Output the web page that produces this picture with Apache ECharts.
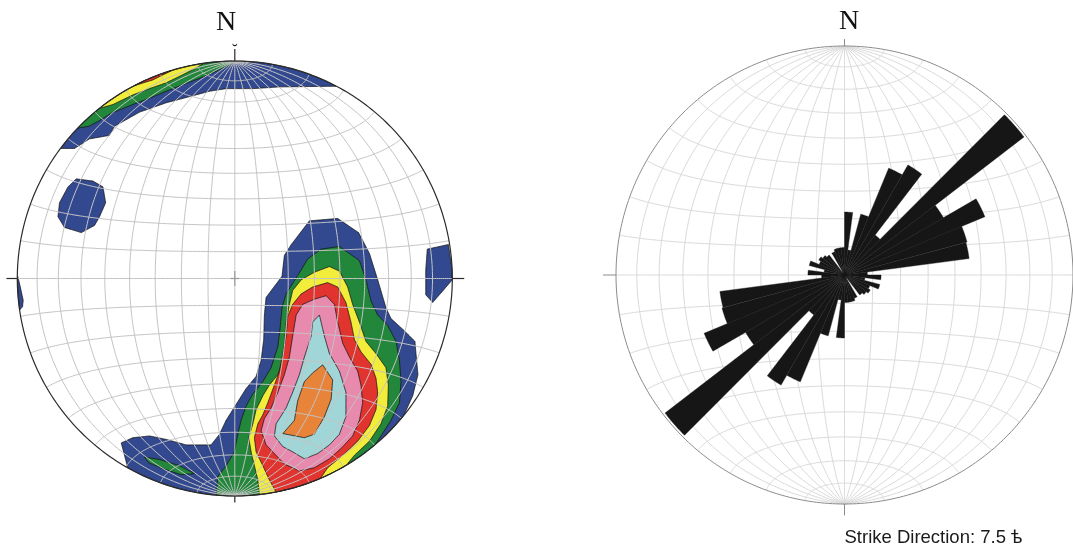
<!DOCTYPE html>
<html>
<head>
<meta charset="utf-8">
<script src="https://cdn.jsdelivr.net/npm/echarts@6/dist/echarts.min.js"></script>
<style>
  html, body { margin: 0; padding: 0; background: #ffffff; }
  #main { width: 1073px; height: 548px; }
</style>
</head>
<body>
<div id="main"></div>
<script>
// Graticule spacing of the equal-area (Schmidt) net, degrees
const NET_STEP = 10;
// Width of one strike class in the rose, degrees
const ROSE_BIN = 7.5;

// Pole-density contours, x east / y north in percent of the net radius.
// Vertices beyond 100 run along the primitive circle.
const densityLevel1 = [
  [[34.3,26.5],[47.3,27.6],[56.9,21.1],[61.9,11.5],[65.7,-0.6],[69.5,-13.5],[71.8,-18.4],[77.9,-24.0],[82.8,-28.9],[83.3,-34.5],[84.2,-44.2],[81.8,-53.9],[77.9,-62.5],[65,-112.6],[0,-130],[-44.5,-122.2],[-49.2,-87.1],[-52.2,-75.6],[-46.9,-73.2],[-39.2,-72.4],[-31.5,-74.0],[-22.4,-76.5],[-10.9,-76.5],[-7.0,-71.6],[-4.0,-65.2],[-0.9,-60.3],[5.2,-50.6],[9.8,-45.0],[12.1,-37.7],[13.3,-28.1],[13.6,-16.8],[14.4,-8.7],[21.7,1.0],[22.8,10.6],[25.9,15.5]],
  [[-79.8,59.8],[-73.7,59.8],[-66.8,64.2],[-57.6,65.8],[-55.3,70.0],[-43.8,76.5],[-31.5,80.8],[-22.4,83.2],[-11.6,86.1],[-4.0,87.3],[8.3,87.3],[20.5,88.1],[46.6,88.4],[33.6,125.6],[0,130],[-33.6,125.6],[-65,112.6],[-91.9,91.9]],
  [[-72.9,45.8],[-65.2,44.8],[-60.6,42.1],[-59.4,34.8],[-62.2,28.4],[-64.5,24.4],[-70.6,21.1],[-78.3,23.5],[-81.3,28.4],[-80.6,34.8],[-76.7,42.1]],
  [[-99.8,1],[-98.6,-4],[-97.3,-10],[-97.6,-13],[-99,-14.5],[-110,-7]],
  [[88.5,13.5],[98.2,15.6],[100.5,0],[97.5,-3.5],[91,-11],[87.8,-7.5],[87.8,4]]
];
const densityLevel2 = [
  [[39.7,13.5],[48.1,14.7],[57.3,8.2],[60.3,-0.6],[62.6,-10.3],[65.7,-16.8],[70.3,-21.6],[74.1,-28.9],[75.7,-37.7],[76.4,-47.4],[75.7,-57.1],[71.8,-65.2],[67.2,-72.4],[64.2,-76.8],[44.5,-122.2],[0,-130],[-8.6,-99.7],[-7.8,-91.0],[-4.0,-86.1],[-0.2,-79.7],[1.4,-71.6],[2.9,-65.2],[5.2,-58.7],[8.3,-53.1],[12.9,-47.4],[16.7,-41.0],[19.8,-31.3],[20.8,-23.2],[21.7,-13.5],[23.6,-7.1],[26.6,-2.3],[29.7,2.6],[33.5,9.0]],
  [[-41.5,-82.1],[-34.6,-83.2],[-25.4,-86.1],[-18.5,-89.7],[-24.7,-90.2],[-33.1,-87.4],[-39.5,-84.8]],
  [[-72.9,69.0],[-67.1,70.0],[-62.2,72.6],[-56.8,76.0],[-46.9,80.0],[-39.2,82.9],[-31.5,86.1],[-22.4,89.7],[-14.7,92.6],[-8.6,95.3],[-2.5,98.1],[-0.9,99.4],[-22.6,128],[-54.9,117.8],[-83.6,99.6]]
];
const densityLevel3 = [
  [[43.5,5.5],[48.1,3.4],[51.9,-3.9],[54.2,-11.9],[57.3,-20.0],[60.3,-28.9],[64.9,-34.5],[69.5,-41.0],[70.6,-49.0],[70.3,-58.7],[67.2,-66.8],[61.9,-74.8],[55.0,-81.3],[51.1,-86.0],[44.5,-122.2],[11.3,-99.4],[10.6,-92.6],[9.0,-86.1],[7.5,-79.7],[6.4,-73.2],[8.3,-66.8],[9.8,-60.3],[12.9,-53.9],[15.9,-49.0],[19.8,-44.2],[22.1,-37.7],[22.8,-29.7],[23.6,-20.0],[25.1,-11.9],[26.6,-5.5],[30.5,-0.6],[36.6,2.9]],
  [[-62.2,78.2],[-56.0,80.0],[-46.9,84.4],[-39.2,87.3],[-31.5,90.0],[-23.9,93.7],[-17.8,96.8],[-14.4,98.9],[-44.5,122.2],[-65,112.6]]
];
const densityLevel4 = [
  [[42.7,-1.9],[47.3,-3.9],[51.1,-11.1],[53.4,-20.0],[55.0,-28.1],[58.0,-33.7],[62.6,-39.4],[64.9,-45.8],[65.7,-52.3],[64.9,-60.3],[61.9,-67.6],[56.5,-74.8],[49.6,-81.3],[42.7,-87.0],[38.9,-92.6],[30,-125],[19.0,-98.2],[15.9,-92.6],[12.9,-86.1],[9.8,-79.7],[9.0,-73.2],[10.6,-66.8],[12.9,-62.7],[15.2,-57.1],[18.2,-49.0],[20.5,-42.6],[22.1,-34.5],[23.6,-26.5],[24.3,-17.6],[26.6,-11.9],[30.5,-7.1],[35.8,-3.9]],
  [[-46.1,88.7],[-37.7,91.3],[-29.2,95.5],[-48.7,120.5]]
];
const densityLevel5 = [
  [[42.0,-7.9],[45.8,-11.9],[47.3,-20.0],[49.6,-29.7],[52.7,-36.1],[56.5,-42.6],[58.0,-49.0],[58.8,-57.1],[57.3,-65.2],[54.2,-72.4],[48.9,-78.1],[43.5,-82.9],[36.6,-87.0],[29.7,-88.5],[22.8,-85.3],[18.2,-80.5],[14.4,-76.5],[12.1,-70.0],[13.6,-64.4],[16.7,-59.5],[19.8,-52.3],[22.8,-44.2],[25.1,-36.1],[26.6,-26.5],[28.2,-16.8],[31.2,-11.9],[36.6,-9.5]]
];
const densityLevel6 = [
  [[38.9,-16.8],[41.2,-26.5],[43.5,-34.5],[48.1,-42.6],[51.1,-52.3],[51.1,-63.5],[48.1,-71.6],[43.5,-76.5],[38.1,-80.5],[32.0,-82.9],[26.6,-79.7],[22.1,-77.3],[18.2,-72.4],[19.0,-66.8],[23.6,-59.5],[26.6,-52.3],[29.7,-44.2],[32.0,-36.1],[35.1,-26.5],[35.8,-20.0]]
];
const densityLevel7 = [
  [[40.4,-39.7],[45.0,-46.6],[44.3,-55.5],[41.2,-63.5],[36.6,-71.6],[32.0,-73.2],[22.1,-71.3],[27.4,-65.2],[28.9,-56.3],[32.0,-47.4],[35.8,-43.4]]
];
const densityLevels = [densityLevel1, densityLevel2, densityLevel3, densityLevel4, densityLevel5, densityLevel6, densityLevel7];
const densityColors = ['#33498f', '#23873b', '#f2ec3b', '#e1342f', '#e78aae', '#a0d6d7', '#e8833a'];

// Strike rose: frequency per 7.5° class from 0° to 180°, in percent of the net radius
// (each class is also plotted in the opposite direction).
const strikeFreq = [27.5, 11, 27.5, 50.5, 55.5, 22, 99, 50, 66.5, 55.5, 55, 10, 16, 9, 16, 12, 13, 12, 11, 0, 11, 12, 12, 12];

const rad = d => d * Math.PI / 180;

// Equatorial Lambert equal-area projection scaled to a unit primitive circle
function project(lon, lat) {
  const l = rad(lon), p = rad(lat);
  const d = Math.sqrt(1 + Math.cos(p) * Math.cos(l));
  return [Math.cos(p) * Math.sin(l) / d, Math.sin(p) / d];
}

function graticule() {
  const lines = [];
  for (let lon = -90 + NET_STEP; lon < 90; lon += NET_STEP) {
    const pts = [];
    for (let lat = -90; lat <= 90; lat += 1) pts.push(project(lon, lat));
    lines.push(pts);
  }
  for (let lat = -90 + NET_STEP; lat < 90; lat += NET_STEP) {
    const pts = [];
    for (let lon = -90; lon <= 90; lon += 1) pts.push(project(lon, lat));
    lines.push(pts);
  }
  return lines;
}
const netLines = graticule();

// Densify a contour outline and keep it inside the primitive circle
function rimClamp(poly) {
  const out = [];
  for (let i = 0; i < poly.length; i++) {
    const a = poly[i], b = poly[(i + 1) % poly.length];
    const ax = a[0] / 100, ay = a[1] / 100, bx = b[0] / 100, by = b[1] / 100;
    const n = Math.max(1, Math.ceil(Math.hypot(bx - ax, by - ay) / 0.004));
    for (let k = 0; k < n; k++) {
      let x = ax + (bx - ax) * k / n, y = ay + (by - ay) * k / n;
      const r = Math.hypot(x, y);
      if (r > 0.999) { x = x / r * 0.999; y = y / r * 0.999; }
      out.push([x, y]);
    }
  }
  return out;
}

const contourShapes = [];
densityLevels.forEach((level, li) => {
  level.forEach(poly => contourShapes.push({ pts: rimClamp(poly), color: densityColors[li] }));
});

const roseBins = [];
strikeFreq.forEach((f, i) => {
  if (f > 0) {
    roseBins.push([i * ROSE_BIN, (i + 1) * ROSE_BIN, f]);
    roseBins.push([180 + i * ROSE_BIN, 180 + (i + 1) * ROSE_BIN, f]);
  }
});

function graticuleSeries(gi, color, width, z) {
  return {
    type: 'custom', xAxisIndex: gi, yAxisIndex: gi, clip: false, silent: true, z: z,
    data: netLines.map((_, i) => [0, 0, i]),
    renderItem: (params, api) => ({
      type: 'polyline',
      shape: { points: netLines[api.value(2)].map(p => api.coord(p)) },
      style: { stroke: color, lineWidth: width, fill: null }
    })
  };
}

function frameSeries(gi, cfg) {
  return {
    type: 'custom', xAxisIndex: gi, yAxisIndex: gi, clip: false, silent: true, z: 6,
    data: [[0, 0]],
    renderItem: (params, api) => {
      const children = [];
      const rim = [];
      for (let a = 0; a <= 360; a += 1) rim.push(api.coord([Math.sin(rad(a)), Math.cos(rad(a))]));
      children.push({ type: 'polyline', shape: { points: rim }, style: { stroke: cfg.rimColor, lineWidth: cfg.rimWidth, fill: null } });
      cfg.ticks.forEach(t => {
        const p1 = api.coord(t[0]), p2 = api.coord(t[1]);
        children.push({ type: 'line', shape: { x1: p1[0], y1: p1[1], x2: p2[0], y2: p2[1] },
          style: { stroke: t[2] || cfg.tickColor, lineWidth: cfg.tickWidth } });
      });
      cfg.labels.forEach(l => {
        const p = api.coord(l.at);
        children.push({ type: 'text', x: p[0], y: p[1],
          style: { text: l.text, fill: l.color || '#111', font: l.font, align: l.align || 'center', verticalAlign: 'middle' } });
      });
      return { type: 'group', children: children };
    }
  };
}

const option = {
  animation: false,
  backgroundColor: '#ffffff',
  grid: [
    { left: 17.3, top: 61, width: 435, height: 435 },
    { left: 616, top: 46, width: 458, height: 458 }
  ],
  xAxis: [
    { type: 'value', gridIndex: 0, min: -1, max: 1, show: false },
    { type: 'value', gridIndex: 1, min: -1, max: 1, show: false }
  ],
  yAxis: [
    { type: 'value', gridIndex: 0, min: -1, max: 1, show: false },
    { type: 'value', gridIndex: 1, min: -1, max: 1, show: false }
  ],
  series: [
    // contoured pole density
    {
      type: 'custom', xAxisIndex: 0, yAxisIndex: 0, clip: false, silent: true, z: 2,
      data: contourShapes.map((_, i) => [0, 0, i]),
      renderItem: (params, api) => {
        const s = contourShapes[api.value(2)];
        return { type: 'polygon', shape: { points: s.pts.map(p => api.coord(p)) },
          style: { fill: s.color, stroke: '#111111', lineWidth: 0.8 } };
      }
    },
    graticuleSeries(0, '#c4c4c4', 1, 3),
    frameSeries(0, {
      rimColor: '#2a2a2a', rimWidth: 1.2, tickColor: '#2a2a2a', tickWidth: 1.2,
      ticks: [
        [[0, 1], [0, 1.055]], [[0, -1], [0, -1.03]],
        [[-1, 0], [-1.05, 0]], [[1, 0], [1.055, 0]],
        [[0, -0.035], [0, 0.035], '#9a9a9a'], [[-0.02, 0], [0.02, 0], '#9a9a9a']
      ],
      labels: [
        { text: 'N', at: [-0.04, 1.175], font: '28px "Liberation Serif", "DejaVu Serif", serif' },
        { text: '\u02D8', at: [0, 1.05], font: '17px "Liberation Serif", "DejaVu Serif", serif' }
      ]
    }),
    // strike rose on the second net
    graticuleSeries(1, '#dadada', 1, 1),
    {
      type: 'custom', xAxisIndex: 1, yAxisIndex: 1, clip: false, silent: true, z: 4,
      data: roseBins.map((_, i) => [0, 0, i]),
      renderItem: (params, api) => {
        const b = roseBins[api.value(2)];
        const r = b[2] / 100;
        const pts = [api.coord([0, 0])];
        for (let a = b[0]; a <= b[1] + 1e-9; a += 0.25) pts.push(api.coord([r * Math.sin(rad(a)), r * Math.cos(rad(a))]));
        return { type: 'polygon', shape: { points: pts },
          style: { fill: '#161616', stroke: '#161616', lineWidth: 0.4 } };
      }
    },
    frameSeries(1, {
      rimColor: '#8c8c8c', rimWidth: 1, tickColor: '#8c8c8c', tickWidth: 1,
      ticks: [
        [[0, 1], [0, 1.03]], [[0, -1], [0, -1.05]],
        [[-1, 0], [-1.057, 0]], [[1, 0], [1.057, 0]]
      ],
      labels: [
        { text: 'N', at: [0.02, 1.105], font: '28px "Liberation Serif", "DejaVu Serif", serif' },
        { text: 'Strike Direction: 7.5 \u0463', at: [0, -1.148], align: 'left',
          font: '18.5px "Liberation Sans", Arial, sans-serif', color: '#1a1a1a' }
      ]
    })
  ]
};

const chart = echarts.init(document.getElementById('main'), null, { renderer: 'canvas' });
chart.setOption(option);
</script>
</body>
</html>
